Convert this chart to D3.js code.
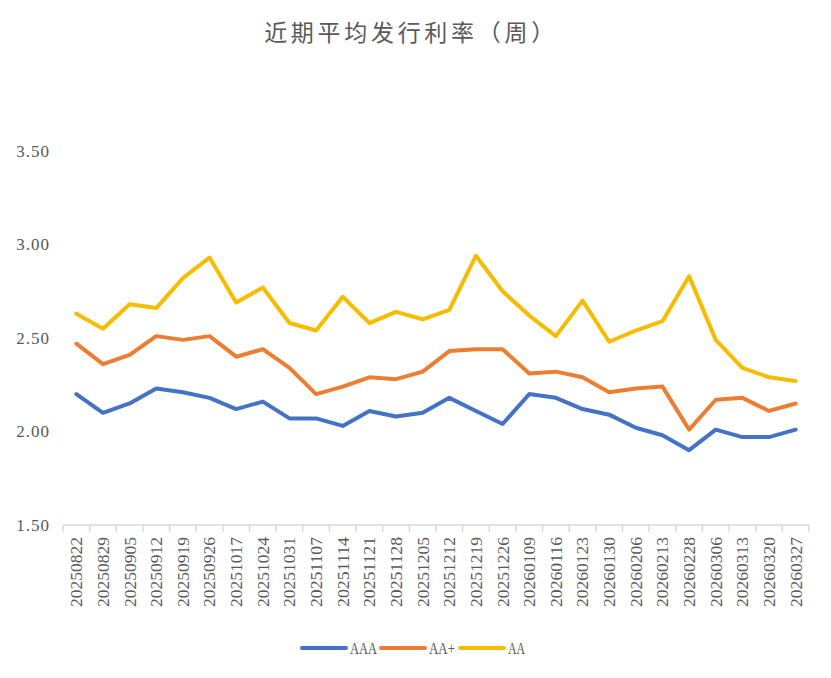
<!DOCTYPE html>
<html><head><meta charset="utf-8">
<script src="https://cdn.jsdelivr.net/npm/d3@7/dist/d3.min.js"></script>
<style>
html,body{margin:0;padding:0;background:#fff;}
text{fill:#595959;}
</style></head>
<body><svg id="c" width="831" height="678"></svg>
<script>
const title = "近期平均发行利率（周）";
const categories = ["20250822","20250829","20250905","20250912","20250919","20250926","20251017","20251024","20251031","20251107","20251114","20251121","20251128","20251205","20251212","20251219","20251226","20260109","20260116","20260123","20260130","20260206","20260213","20260228","20260306","20260313","20260320","20260327"];
const seriesNames = ["AAA","AA+","AA"];
const seriesColors = ["#4472C4","#ED7D31","#F5BC00"];
const aaa = [2.20,2.10,2.15,2.23,2.21,2.18,2.12,2.16,2.07,2.07,2.03,2.11,2.08,2.10,2.18,2.11,2.04,2.20,2.18,2.12,2.09,2.02,1.98,1.90,2.01,1.97,1.97,2.01];
const aaPlus = [2.47,2.36,2.41,2.51,2.49,2.51,2.40,2.44,2.34,2.20,2.24,2.29,2.28,2.32,2.43,2.44,2.44,2.31,2.32,2.29,2.21,2.23,2.24,2.01,2.17,2.18,2.11,2.15];
const aa = [2.63,2.55,2.68,2.66,2.82,2.93,2.69,2.77,2.58,2.54,2.72,2.58,2.64,2.60,2.65,2.94,2.75,2.62,2.51,2.70,2.48,2.54,2.59,2.83,2.49,2.34,2.29,2.27];
const yTicks = [1.5,2.0,2.5,3.0,3.5];

const svg = d3.select("#c");
const L = 63, R = 809, T = 151, B = 525;
const x = d3.scaleBand().domain(categories).range([L, R]).padding(0);
const y = d3.scaleLinear().domain([1.5, 3.5]).range([B, T]);
const cx = d => x(d) + x.bandwidth()/2;

// title
svg.append("text").attr("x", 411).attr("y", 41).attr("text-anchor","middle")
  .style("font-family","'Noto Sans CJK SC'").style("font-size","23px")
  .style("letter-spacing","3.7px").text(title);

// y axis labels
const ya = svg.append("g").attr("transform",`translate(${L},0)`)
  .call(d3.axisLeft(y).tickValues(yTicks).tickFormat(d3.format(".2f")).tickSize(0).tickPadding(13));
ya.select(".domain").remove();
ya.selectAll("text").style("font-family","'Liberation Serif'").style("font-size","17px").style("fill","#595959").style("letter-spacing","1px");

// x axis
const xa = svg.append("g").attr("transform",`translate(0,${B})`)
  .call(d3.axisBottom(x).tickSize(0).tickPadding(0));
xa.select(".domain").remove();
xa.selectAll("text")
  .attr("transform","rotate(-90)").attr("x",-12).attr("y",0).attr("dy","0.35em")
  .style("text-anchor","end")
  .style("font-family","'Liberation Serif'").style("font-size","17px").style("fill","#595959")
  .attr("textLength",70).attr("lengthAdjust","spacingAndGlyphs");
svg.append("line").attr("x1",L).attr("x2",R).attr("y1",B).attr("y2",B)
  .attr("stroke","#D9D9D9").attr("stroke-width",1.5);
const edges = categories.map(c => x(c)).concat([R]);
svg.append("g").selectAll("line").data(edges).join("line")
  .attr("x1",d=>d).attr("x2",d=>d).attr("y1",B).attr("y2",B+7)
  .attr("stroke","#D9D9D9").attr("stroke-width",1.5);

// lines
const data = [aaa, aaPlus, aa];
const line = d3.line().x((d,i)=>cx(categories[i])).y(d=>y(d));
data.forEach((s,k)=>{
  svg.append("path").datum(s).attr("d",line).attr("fill","none")
    .attr("stroke",seriesColors[k]).attr("stroke-width",4)
    .attr("stroke-linejoin","round").attr("stroke-linecap","round");
});

// legend
const legX = [302, 381, 460];
const legW = [27, 26, 17];
const lg = svg.append("g");
seriesNames.forEach((n,k)=>{
  lg.append("line").attr("x1",legX[k]).attr("x2",legX[k]+44).attr("y1",648).attr("y2",648)
    .attr("stroke",seriesColors[k]).attr("stroke-width",4).attr("stroke-linecap","round");
  lg.append("text").attr("x",legX[k]+48).attr("y",654)
    .style("font-family","'Liberation Serif'").style("font-size","16px")
    .attr("textLength",legW[k]).attr("lengthAdjust","spacingAndGlyphs").text(n);
});
</script></body></html>
